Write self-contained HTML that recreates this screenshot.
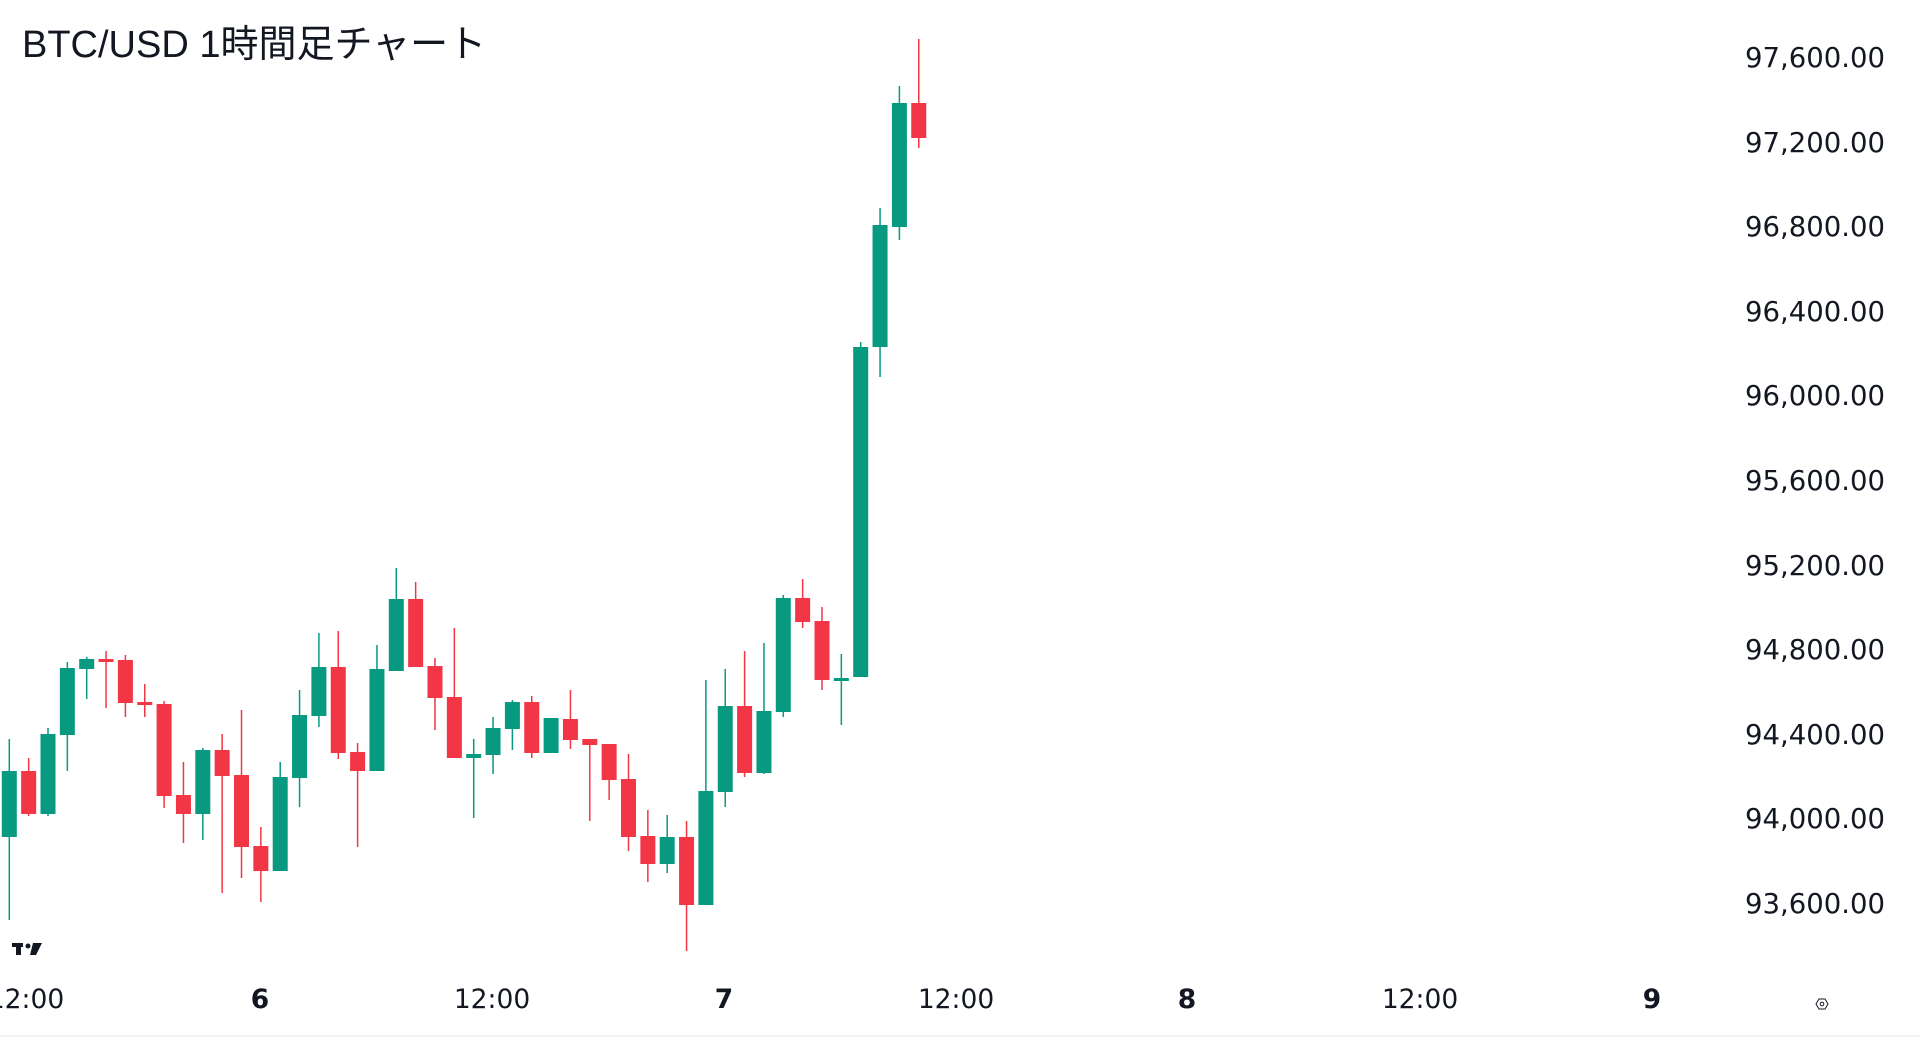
<!DOCTYPE html>
<html><head><meta charset="utf-8">
<style>
html,body{margin:0;padding:0;background:#fff;width:1920px;height:1046px;overflow:hidden}
svg{display:block}
.t{font-family:"Liberation Sans","Noto Sans CJK JP",sans-serif;font-size:38px;fill:#131722}
.y{font-family:"DejaVu Sans","Liberation Sans",sans-serif;font-size:27.5px;fill:#131722}
.x{font-family:"DejaVu Sans","Liberation Sans",sans-serif;font-size:26.5px;fill:#131722}
.b{font-weight:bold}
</style></head><body>
<svg id="s" width="1920" height="1046" xmlns="http://www.w3.org/2000/svg">
<text class="t" x="22" y="57">BTC/USD 1時間足チャート</text>
<g text-anchor="end" class="y">
<text x="1885" y="67">97,600.00</text>
<text x="1885" y="152">97,200.00</text>
<text x="1885" y="236">96,800.00</text>
<text x="1885" y="321">96,400.00</text>
<text x="1885" y="405">96,000.00</text>
<text x="1885" y="490">95,600.00</text>
<text x="1885" y="575">95,200.00</text>
<text x="1885" y="659">94,800.00</text>
<text x="1885" y="744">94,400.00</text>
<text x="1885" y="828">94,000.00</text>
<text x="1885" y="913">93,600.00</text>
</g>
<g text-anchor="middle" class="x">
<text x="26" y="1008">12:00</text>
<text x="260" y="1008" class="b">6</text>
<text x="492" y="1008">12:00</text>
<text x="724" y="1008" class="b">7</text>
<text x="956" y="1008">12:00</text>
<text x="1187" y="1008" class="b">8</text>
<text x="1420" y="1008">12:00</text>
<text x="1652" y="1008" class="b">9</text>
</g>
<line x1="0" y1="1036" x2="1920" y2="1036" stroke="#e0e3eb" stroke-width="1"/>
<polygon points="1816,1004 1819,999 1825,999 1828,1004 1825,1009 1819,1009" fill="none" stroke="#131722" stroke-width="1"/>
<circle cx="1822" cy="1004" r="1.8" fill="none" stroke="#131722" stroke-width="1"/>
<g fill="#131722">
<rect x="12" y="943" width="11" height="4"/><rect x="16" y="943" width="5" height="12"/>
<circle cx="28" cy="946" r="2.5"/>
<polygon points="33,943 42,943 36,955 30,955"/>
</g>
<g id="c"></g>
</svg>
<script>
var d=[
[739,920,771,837,1],[758,816,771,814,0],[728,816,734,814,1],[662,771,668,735,1],[657,699,659,669,1],
[651,708,659,661,0],[655,717,660,703,0],[684,717,702,705,0],[701,808,704,796,0],[762,843,795,814,0],
[748,840,750,814,1],[734,893,750,776,0],[710,878,775,847,0],[827,902,846,871,0],[762,871,777,871,1],
[690,807,715,778,1],[633,727,667,716,1],[631,759,667,753,0],[743,847,752,771,0],[645,771,669,771,1],
[568,671,599,671,1],[582,667,599,667,0],[658,730,666,698,0],[628,758,697,758,0],[739,818,754,758,1],
[717,774,728,755,1],[700,750,702,729,1],[696,758,702,753,0],[718,753,718,753,1],[690,749,719,740,0],
[739,821,739,745,0],[744,800,744,780,0],[754,851,779,837,0],[810,882,836,864,0],[815,873,837,864,1],
[821,951,837,905,0],[680,905,791,905,1],[669,807,706,792,1],[651,777,706,773,0],[643,774,711,773,1],
[595,717,598,712,1],[579,628,598,622,0],[607,690,621,680,0],[654,725,678,680,1],[342,677,347,677,1],
[208,377,225,347,1],[86,240,103,227,1],[39,148,103,138,0]];
var h='';
for(var i=0;i<d.length;i++){var c=d[i],x=9.3+19.35*i,col=c[4]?'#089981':'#F23645';
var bt=c[2],bb=c[3];if(bb-bt<3){bb=bt+3;}
h+='<rect x="'+(x-0.75)+'" y="'+c[0]+'" width="1.5" height="'+(c[1]-c[0])+'" fill="'+col+'"/>';
h+='<rect x="'+(x-7.5)+'" y="'+bt+'" width="15" height="'+(bb-bt)+'" fill="'+col+'"/>';}
document.getElementById('c').innerHTML=h;
</script>
</body></html>
